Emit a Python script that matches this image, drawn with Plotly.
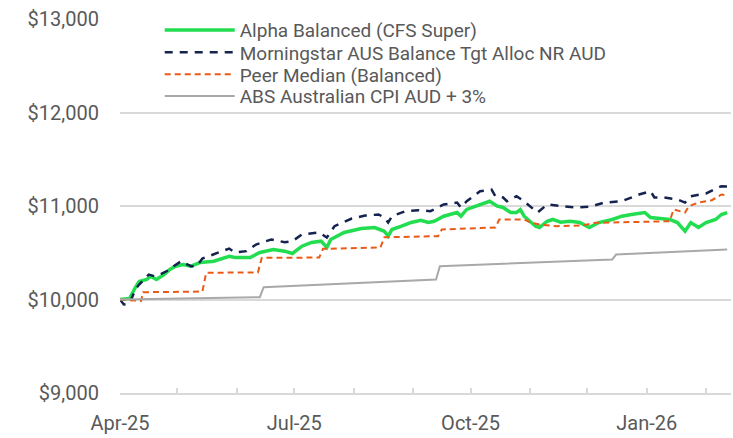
import plotly.graph_objects as go

# ---- Data ----
alpha_dates = ["2025-04-01","2025-04-06","2025-04-09","2025-04-11","2025-04-15","2025-04-17","2025-04-20",
    "2025-04-24","2025-04-27","2025-04-30","2025-05-04","2025-05-08","2025-05-13","2025-05-20","2025-05-28",
    "2025-05-31","2025-06-08","2025-06-13","2025-06-20","2025-06-26","2025-06-30","2025-07-05","2025-07-10",
    "2025-07-15","2025-07-18","2025-07-20","2025-07-27","2025-08-05","2025-08-12","2025-08-17","2025-08-19",
    "2025-08-21","2025-08-26","2025-08-31","2025-09-05","2025-09-09","2025-09-12","2025-09-17","2025-09-24",
    "2025-09-26","2025-09-29","2025-10-06","2025-10-11","2025-10-15","2025-10-18","2025-10-22","2025-10-25",
    "2025-10-27","2025-10-29","2025-11-01","2025-11-04","2025-11-06","2025-11-10","2025-11-13","2025-11-17",
    "2025-11-22","2025-11-27","2025-12-02","2025-12-07","2025-12-14","2025-12-19","2025-12-24","2025-12-31",
    "2026-01-03","2026-01-10","2026-01-13","2026-01-17","2026-01-21","2026-01-24","2026-01-28","2026-02-01",
    "2026-02-06","2026-02-09","2026-02-12"]
alpha_values = [10000,10011,10128,10193,10214,10249,10214,
    10267,10321,10356,10374,10356,10396,10410,10463,
    10449,10449,10503,10535,10517,10492,10570,10610,
    10624,10556,10642,10717,10759,10770,10730,10677,
    10749,10784,10824,10848,10824,10837,10891,10930,
    10891,10963,11016,11051,10998,10984,10930,10930,
    10962,10891,10837,10784,10770,10837,10856,10827,
    10837,10823,10770,10823,10856,10891,10909,10930,
    10877,10856,10856,10823,10730,10823,10770,10823,
    10856,10909,10930]

mstar_dates = ["2025-04-01","2025-04-03","2025-04-06","2025-04-09","2025-04-11","2025-04-16","2025-04-19",
    "2025-04-22","2025-04-27","2025-04-29","2025-05-03","2025-05-04","2025-05-08","2025-05-11","2025-05-14",
    "2025-05-20","2025-05-28","2025-05-31","2025-06-06","2025-06-11","2025-06-16","2025-06-19","2025-06-26",
    "2025-06-30","2025-07-05","2025-07-14","2025-07-18","2025-07-22","2025-07-31","2025-08-07","2025-08-14",
    "2025-08-17","2025-08-19","2025-08-21","2025-08-28","2025-09-04","2025-09-10","2025-09-17","2025-09-24",
    "2025-09-26","2025-09-29","2025-10-06","2025-10-12","2025-10-14","2025-10-18","2025-10-20","2025-10-25",
    "2025-10-29","2025-11-03","2025-11-05","2025-11-10","2025-11-19","2025-11-25","2025-12-03","2025-12-10",
    "2025-12-19","2025-12-28","2026-01-03","2026-01-05","2026-01-10","2026-01-17","2026-01-21","2026-01-24",
    "2026-02-01","2026-02-08","2026-02-09","2026-02-12"]
mstar_values = [10000,9947,9957,10107,10160,10267,10249,
    10267,10321,10356,10410,10396,10356,10356,10438,
    10481,10545,10503,10517,10588,10624,10642,10613,
    10624,10695,10717,10663,10784,10866,10898,10909,
    10877,10824,10891,10944,10955,10944,11016,11037,
    10984,11051,11158,11176,11105,11091,11051,11105,
    11051,10963,10930,11016,10998,10984,10995,11037,
    11051,11123,11158,11091,11091,11070,11037,11105,
    11134,11198,11212,11209]

peer_dates = ["2025-04-01","2025-04-12","2025-04-13","2025-05-14","2025-05-16","2025-06-12","2025-06-14",
    "2025-07-14","2025-07-16","2025-08-15","2025-08-17","2025-09-14","2025-09-16","2025-10-14","2025-10-16",
    "2025-10-29","2025-11-01","2025-11-06","2025-11-15","2025-11-28","2025-12-05","2026-01-13","2026-01-15",
    "2026-01-21","2026-01-23","2026-01-28","2026-02-04","2026-02-09","2026-02-12"]
peer_values = [10000,9985,10078,10085,10286,10290,10445,
    10449,10542,10556,10665,10677,10749,10770,10856,
    10856,10827,10802,10784,10791,10820,10837,10963,
    10930,10998,11037,11062,11123,11112]

cpi_dates = ["2025-04-01","2025-06-13","2025-06-15","2025-09-13","2025-09-15","2025-12-14","2025-12-16","2026-02-12"]
cpi_values = [10000,10025,10131,10214,10356,10428,10481,10535]

series_names = ["Alpha Balanced (CFS Super)",
                "Morningstar AUS Balance Tgt Alloc NR AUD",
                "Peer Median (Balanced)",
                "ABS Australian CPI AUD + 3%"]

tick_months = ["2025-04-01","2025-05-01","2025-06-01","2025-07-01","2025-08-01","2025-09-01",
               "2025-10-01","2025-11-01","2025-12-01","2026-01-01","2026-02-01"]
tick_labels = ["Apr-25","","","Jul-25","","","Oct-25","","","Jan-26",""]
y_ticks = [9000,10000,11000,12000,13000]
y_labels = ["$9,000","$10,000","$11,000","$12,000","$13,000"]

# ---- Figure ----
styles = [dict(color="#22dd4f", width=3.5),
          dict(color="#14234f", width=2.5, dash="8px,7px"),
          dict(color="#ea5a17", width=2, dash="6px,4px"),
          dict(color="#a9a9a9", width=2)]
xs = [alpha_dates, mstar_dates, peer_dates, cpi_dates]
ys = [alpha_values, mstar_values, peer_values, cpi_values]
legend_ids = ["legend", "legend2", "legend3", "legend4"]

fig = go.Figure()
for i in range(4):
    fig.add_trace(go.Scatter(x=xs[i], y=ys[i], name=series_names[i], mode="lines",
                             line=styles[i], legend=legend_ids[i]))

legend_rows_y = [0.970, 0.911, 0.852, 0.794]
leg_common = dict(x=0.065, xanchor="left", yanchor="middle",
                  font=dict(family="Roboto", size=19, color="#595959"),
                  bgcolor="rgba(255,255,255,0)", itemwidth=70)

fig.update_layout(
    width=733, height=438,
    margin=dict(l=120, r=2, t=19, b=45),
    paper_bgcolor="white", plot_bgcolor="white",
    font=dict(family="Roboto", color="#595959", size=20),
    showlegend=True,
    legend=dict(y=legend_rows_y[0], **leg_common),
    legend2=dict(y=legend_rows_y[1], **leg_common),
    legend3=dict(y=legend_rows_y[2], **leg_common),
    legend4=dict(y=legend_rows_y[3], **leg_common),
)
fig.update_xaxes(
    type="date", range=["2025-04-01", "2026-02-14"],
    tickvals=tick_months, ticktext=tick_labels,
    ticks="inside", ticklen=5, tickwidth=1.5, tickcolor="#d9d9d9",
    showline=True, linecolor="#d9d9d9", linewidth=2,
    showgrid=False, zeroline=False, automargin=False,
    ticklabelstandoff=11,
    tickfont=dict(family="Roboto", size=20, color="#595959"),
)
fig.update_yaxes(
    range=[9000, 13000], tickvals=y_ticks, ticktext=y_labels,
    showgrid=True, gridcolor="#d9d9d9", gridwidth=2,
    showline=False, zeroline=False, ticks="", automargin=False,
    ticklabelstandoff=20,
    tickfont=dict(family="Roboto", size=20, color="#595959"),
)

fig.write_html("out.html", config={"displayModeBar": False},
               post_script="document.body.style.margin='0';document.body.style.overflow='hidden';")
